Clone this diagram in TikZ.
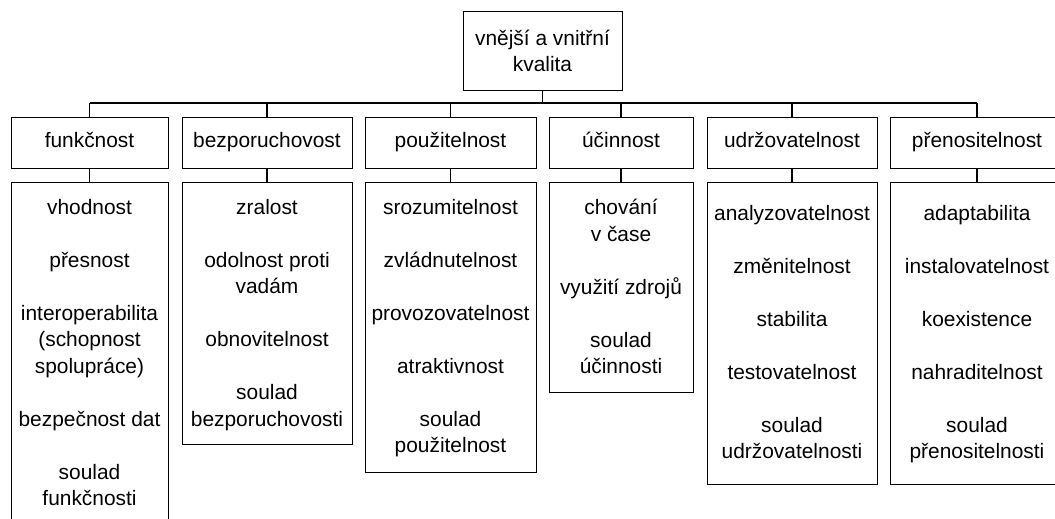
\documentclass[tikz,border=0pt]{standalone}
\usepackage{fontspec}
\setmainfont{Liberation Sans}
\begin{document}
\begin{tikzpicture}[x=1pt,y=-1pt,
  every node/.style={font=\fontsize{20.9}{26.5}\selectfont, inner sep=0pt},
  frame/.style={draw, line width=1pt, rectangle},
  head/.style={frame, minimum height=51pt, text height=15pt, text depth=4.5pt},
  group/.style={frame, anchor=north},
  items/.style={align=center, anchor=north},
  wire/.style={line width=1.3pt}]
\useasboundingbox (0,0) rectangle (1055,519);

% root
\node[frame, minimum width=159pt, minimum height=78pt, align=center] (root) at (542.5,51)
  {vnější a vnitřní\\kvalita};

% characteristics
\node[head, minimum width=157pt] (h1) at (89.5,142.5) {funkčnost};
\node[head, minimum width=170pt] (h2) at (267,142.5) {bezporuchovost};
\node[head, minimum width=171pt] (h3) at (450.5,142.5) {použitelnost};
\node[head, minimum width=144pt] (h4) at (621,142.5) {účinnost};
\node[head, minimum width=170pt] (h5) at (792,142.5) {udržovatelnost};
\node[head, minimum width=174pt] (h6) at (977,142.5) {přenositelnost};

% sub-characteristic frames
\node[group, minimum width=157pt, minimum height=350pt] (b1) at (89.5,182) {};
\node[group, minimum width=170pt, minimum height=262pt] (b2) at (267,182) {};
\node[group, minimum width=171pt, minimum height=290pt] (b3) at (450.5,182) {};
\node[group, minimum width=144pt, minimum height=210pt] (b4) at (621,182) {};
\node[group, minimum width=170pt, minimum height=302pt] (b5) at (792,182) {};
\node[group, minimum width=174pt, minimum height=302pt] (b6) at (977,182) {};

% sub-characteristic lists
\node[items] (t1) at (89.5,199) {vhodnost\\[26.5pt]přesnost\\[26.5pt]interoperabilita\\(schopnost\\spolupráce)\\[26.5pt]bezpečnost dat\\[26.5pt]soulad\\funkčnosti};
\node[items] (t2) at (267,199) {zralost\\[26.5pt]odolnost proti\\vadám\\[26.5pt]obnovitelnost\\[26.5pt]soulad\\bezporuchovosti};
\node[items] (t3) at (450.5,199) {srozumitelnost\\[26.5pt]zvládnutelnost\\[26.5pt]provozovatelnost\\[26.5pt]atraktivnost\\[26.5pt]soulad\\použitelnost};
\node[items] (t4) at (621,199) {chování\\v čase\\[26.5pt]využití zdrojů\\[26.5pt]soulad\\účinnosti};
\node[items] (t5) at (792,205) {analyzovatelnost\\[26.5pt]změnitelnost\\[26.5pt]stabilita\\[26.5pt]testovatelnost\\[26.5pt]soulad\\udržovatelnosti};
\node[items] (t6) at (977,205) {adaptabilita\\[26.5pt]instalovatelnost\\[26.5pt]koexistence\\[26.5pt]nahraditelnost\\[26.5pt]soulad\\přenositelnosti};

% connectors
\coordinate (bus) at (542.5,103);
\draw[wire] (root.south) -- (bus);
\draw[wire] (h1.north |- bus) -- (h6.north |- bus);
\foreach \i in {1,...,6}{
  \draw[wire] (h\i.north) -- (h\i.north |- bus);
  \draw[wire] (h\i.south) -- (b\i.north);
}
\end{tikzpicture}
\end{document}
